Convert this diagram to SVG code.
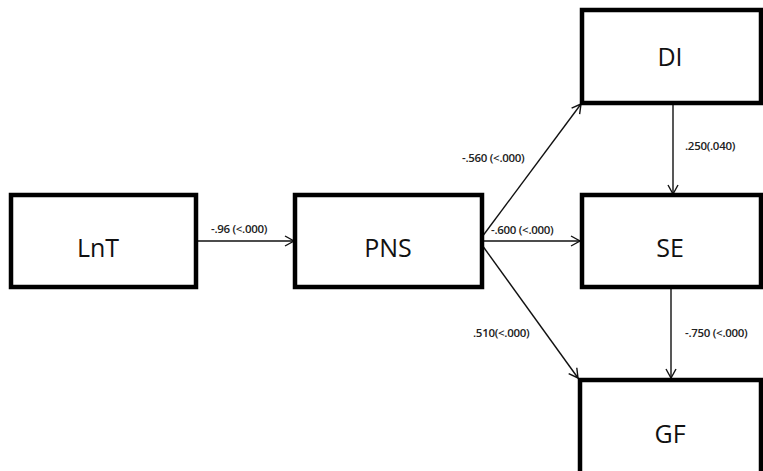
<svg xmlns="http://www.w3.org/2000/svg" width="763" height="471" viewBox="0 0 763 471">
<defs>
<marker id="arr" markerWidth="12" markerHeight="12" refX="10" refY="6" orient="auto" markerUnits="userSpaceOnUse">
<path d="M1,1 L10,6 L1,11" fill="none" stroke="#111" stroke-width="1.4"/>
</marker>
<style>
.box{fill:#fff;stroke:#000;stroke-width:4.5}
.lbl{font-family:"Open Sans","Liberation Sans",sans-serif;font-size:25px;fill:#111;text-anchor:middle}
.c{stroke:#111;stroke-width:1.4;fill:none;marker-end:url(#arr)}
.t{font-family:"Open Sans","Liberation Sans",sans-serif;font-size:11.5px;font-weight:600;fill:#222;letter-spacing:-0.3px}
</style>
</defs>
<rect width="763" height="471" fill="#fff"/>
<g id="connectors">
<line class="c" x1="197" y1="241" x2="294" y2="241"/>
<line class="c" x1="482" y1="241" x2="580" y2="241"/>
<line class="c" x1="482" y1="237" x2="581" y2="104"/>
<line class="c" x1="482" y1="245" x2="578" y2="378"/>
<line class="c" x1="673" y1="104" x2="673" y2="194"/>
<line class="c" x1="671" y1="288" x2="671" y2="378"/>
<text class="t" x="211" y="233">-.96 (&lt;.000)</text>
<text class="t" x="491" y="234">-.600 (&lt;.000)</text>
<text class="t" x="462" y="162">-.560 (&lt;.000)</text>
<text class="t" x="685" y="150">.250(.040)</text>
<text class="t" x="473" y="337">.510(&lt;.000)</text>
<text class="t" x="685" y="337">-.750 (&lt;.000)</text>
</g>
<g id="LnT"><rect class="box" x="11" y="195" width="185" height="92"/><text class="lbl" x="98" y="257">LnT</text></g>
<g id="PNS"><rect class="box" x="295" y="195" width="187" height="92"/><text class="lbl" x="388" y="257">PNS</text></g>
<g id="DI"><rect class="box" x="582" y="10" width="179" height="93"/><text class="lbl" x="670" y="66">DI</text></g>
<g id="SE"><rect class="box" x="582" y="195" width="179" height="92"/><text class="lbl" x="670" y="257">SE</text></g>
<g id="GF"><rect class="box" x="580" y="380" width="181" height="95"/><text class="lbl" x="670" y="443">GF</text></g>
</svg>
